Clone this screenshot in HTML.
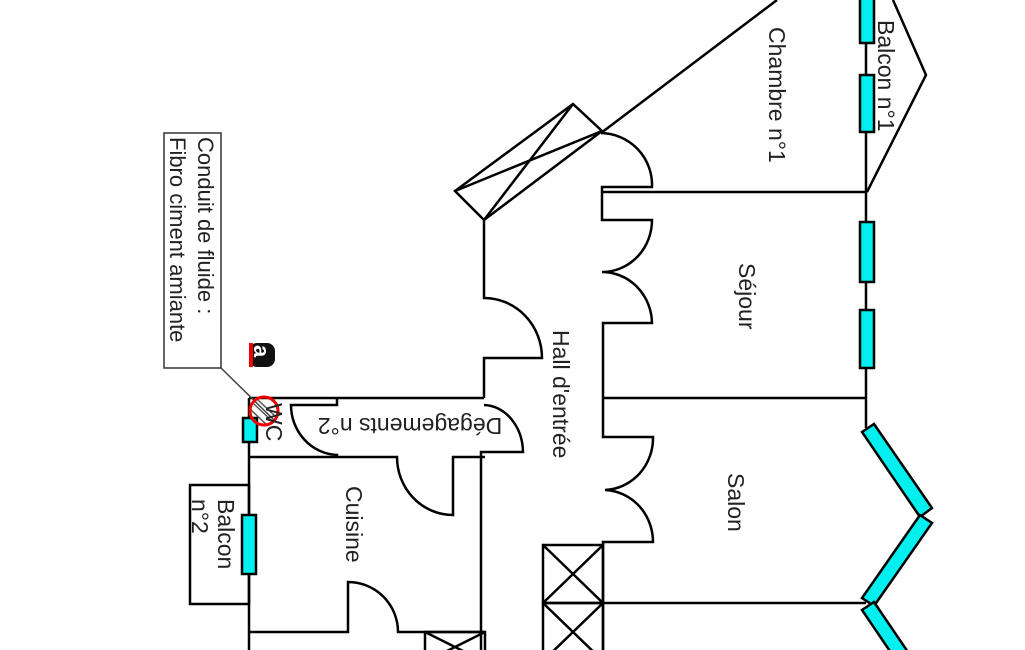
<!DOCTYPE html>
<html><head><meta charset="utf-8"><style>
html,body{margin:0;padding:0;background:#fff;}
svg{display:block;}
text{font-family:"Liberation Sans",sans-serif;font-size:23px;fill:#222;}
</style></head><body>
<svg width="1025" height="650" viewBox="0 0 1025 650" xmlns="http://www.w3.org/2000/svg">
<g fill="none" stroke="#000" stroke-width="2.5">
<line x1="601" y1="133" x2="777" y2="0"/>
<polygon points="455,191 573,104 602,131 484,220"/>
<line x1="455" y1="191" x2="602" y2="131"/>
<line x1="573" y1="104" x2="484" y2="220"/>
<path d="M601,133 A52,52 0 0 1 652,187 L602,187 L602,220 L652,220 A50,52 0 0 1 602,272 A50,52 0 0 1 652,323 L603,323 L603,437 L653,437 A50,52 0 0 1 605,490 A50,52 0 0 1 653,542 L603,542 L603,650"/>
<line x1="602" y1="192" x2="866" y2="192"/>
<line x1="603" y1="398" x2="866" y2="398"/>
<line x1="603" y1="603" x2="866" y2="603"/>
<path d="M484,220 L484,298 A58,60 0 0 1 542,358 L484,358 L484,398"/>
<line x1="249" y1="398" x2="484" y2="398"/>
<path d="M484,405 A40,48 0 0 1 523,452 L481,452 L481,650"/>
<path d="M485,457 L453,457 L453,515 A56,58 0 0 1 397,457 L337,457 L249,457"/>
<path d="M337,398 L337,405 L291,405 A48,50 0 0 0 337,455 L337,457"/>
<line x1="249" y1="398" x2="249" y2="650"/>
<path d="M249,632 L345,632 L348,632 L348,582 A50,50 0 0 1 398,632 L485,632"/>
<rect x="190" y="485" width="59" height="119"/>
<rect x="425" y="632" width="60" height="30"/>
<line x1="425" y1="632" x2="485" y2="662"/><line x1="485" y1="632" x2="425" y2="662"/>
<rect x="543" y="545" width="60" height="58"/>
<line x1="543" y1="545" x2="603" y2="603"/><line x1="603" y1="545" x2="543" y2="603"/>
<rect x="543" y="603" width="60" height="58"/>
<line x1="543" y1="603" x2="603" y2="661"/><line x1="603" y1="603" x2="543" y2="661"/>
<line x1="866" y1="0" x2="866" y2="428"/>
<polyline points="867,192 926,75 893,0"/>
</g>
<g fill="#00f0f0" stroke="#000" stroke-width="2.5">
<rect x="860" y="-5" width="14" height="48"/>
<rect x="860" y="75" width="14" height="57"/>
<rect x="860" y="222" width="14" height="60"/>
<rect x="860" y="310" width="14" height="58"/>
<rect x="243" y="418" width="14" height="24"/>
<rect x="242" y="515" width="14" height="59"/>
<polygon points="862,432 874,424 932,508 920,517"/>
<polygon points="920,515 932,523 874,606 862,598"/>
<polygon points="862,610 874,602 910,655 898,663"/>
</g>
<rect x="164" y="133" width="57" height="235" fill="#fff" stroke="#333" stroke-width="1.5"/>
<line x1="221" y1="368" x2="274" y2="420" stroke="#444" stroke-width="1.5"/>
<g stroke="#555" stroke-width="1.5"><line x1="254" y1="404" x2="272" y2="421"/><line x1="258" y1="400" x2="276" y2="417"/><line x1="251" y1="410" x2="268" y2="426"/></g>
<circle cx="264" cy="411" r="14" fill="none" stroke="#e00" stroke-width="3"/>
<rect x="249" y="343" width="26" height="24" rx="8" fill="#111"/>
<rect x="249" y="343" width="4" height="24" fill="#e00"/>
<text transform="translate(254,345) rotate(90)" style="font-size:22px;font-weight:bold;fill:#fff">a</text>
<text transform="translate(198,137) rotate(90)" style="font-size:22px">Conduit de fluide :</text>
<text transform="translate(170,137) rotate(90)" style="font-size:22px">Fibro ciment amiante</text>
<text transform="translate(769,27) rotate(90)">Chambre n°1</text>
<text transform="translate(878,20) rotate(90)">Balcon n°1</text>
<text transform="translate(739,263) rotate(90)">Séjour</text>
<text transform="translate(553,330) rotate(90)">Hall d'entrée</text>
<text transform="translate(728,473) rotate(90)">Salon</text>
<text transform="translate(346,486) rotate(90)">Cuisine</text>
<text transform="translate(218,499) rotate(90)">Balcon</text>
<text transform="translate(192,499) rotate(90)">n°2</text>
<text transform="translate(266,403) rotate(90)">WC</text>
<text transform="translate(410,418) rotate(180)" text-anchor="middle">Dégagements n°2</text>
</svg>
</body></html>
